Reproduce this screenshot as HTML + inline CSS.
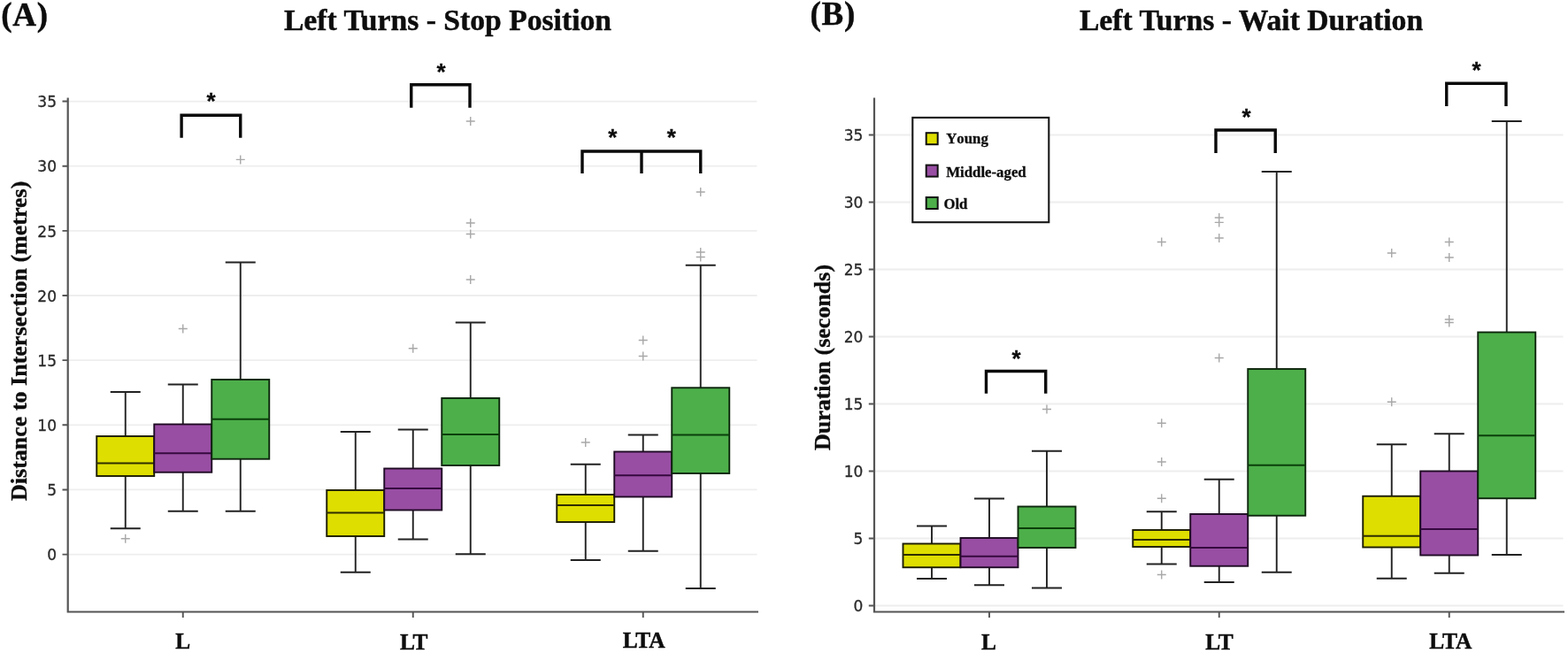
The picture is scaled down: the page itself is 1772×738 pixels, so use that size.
<!DOCTYPE html>
<html lang="en">
<head>
<meta charset="utf-8">
<title>Left Turns - Stop Position and Wait Duration</title>
<style>
html,body{margin:0;padding:0;background:#fff;}
body{width:1772px;height:738px;overflow:hidden;}
svg{display:block;}
text{font-family:"Liberation Serif",serif;font-weight:bold;fill:#0d0d0d;stroke:#0d0d0d;stroke-width:0.45;}
.g{stroke:#eeeeee;stroke-width:1.8;fill:none;}
.sp{stroke:#555555;stroke-width:2.2;fill:none;stroke-linejoin:miter;}
.tk{stroke:#555555;stroke-width:1.9;fill:none;}
.w{stroke:#222222;stroke-width:1.9;fill:none;}
.b{stroke-width:1.9;}
.m{stroke-width:2.1;fill:none;}
.f{stroke:#a8a8a8;stroke-width:1.4;fill:none;}
.br{stroke:#0a0a0a;stroke-width:3.4;fill:none;stroke-linejoin:miter;}
.st{font-family:"Liberation Sans",sans-serif;font-weight:bold;font-size:26px;text-anchor:middle;fill:#0a0a0a;stroke:#0a0a0a;stroke-width:0.3;}
.yt{font-family:"DejaVu Sans",sans-serif;font-weight:normal;font-size:17px;text-anchor:end;fill:#2a2a2a;stroke:#2a2a2a;stroke-width:0.3;}
.xt{font-size:25.4px;text-anchor:middle;}
.lg{font-size:16.8px;font-kerning:none;stroke-width:0.3;}
.pl{font-size:37px;letter-spacing:0.7px;}
.ti{font-size:33.65px;text-anchor:middle;}
.yl{font-size:26px;text-anchor:middle;stroke-width:0.35;}
</style>
</head>
<body>
<svg width="1772" height="738" viewBox="0 0 1772 738">
<rect width="1772" height="738" fill="#ffffff"/>
<path d="M76.70 626.60H855.50M76.70 553.45H855.50M76.70 480.30H855.50M76.70 407.15H855.50M76.70 334.00H855.50M76.70 260.85H855.50M76.70 187.70H855.50M76.70 114.55H855.50" class="g"/>
<path d="M141.75 443.00V493.00M141.75 538.00V597.25M124.75 443.00H158.75M124.75 597.25H158.75" class="w"/>
<rect x="109.25" y="493.00" width="65.00" height="45.00" fill="#dede00" stroke="#1c1c00" class="b"/>
<path d="M109.25 523.50H174.25" stroke="#2e2e00" class="m"/>
<path d="M136.75 608.75h10M141.75 603.75v10" class="f"/>
<path d="M206.75 434.50V479.50M206.75 533.75V577.75M189.75 434.50H223.75M189.75 577.75H223.75" class="w"/>
<rect x="174.25" y="479.50" width="65.00" height="54.25" fill="#984ea3" stroke="#1f0b24" class="b"/>
<path d="M174.25 512.25H239.25" stroke="#36093f" class="m"/>
<path d="M201.75 371.50h10M206.75 366.50v10" class="f"/>
<path d="M271.75 296.50V429.00M271.75 518.75V577.75M254.75 296.50H288.75M254.75 577.75H288.75" class="w"/>
<rect x="239.25" y="429.00" width="65.00" height="89.75" fill="#4daf4a" stroke="#0d260d" class="b"/>
<path d="M239.25 473.75H304.25" stroke="#0b3f0b" class="m"/>
<path d="M266.75 180.40h10M271.75 175.40v10" class="f"/>
<path d="M401.75 488.00V554.00M401.75 606.00V646.75M384.75 488.00H418.75M384.75 646.75H418.75" class="w"/>
<rect x="369.25" y="554.00" width="65.00" height="52.00" fill="#dede00" stroke="#1c1c00" class="b"/>
<path d="M369.25 579.50H434.25" stroke="#2e2e00" class="m"/>
<path d="M466.75 485.50V529.50M466.75 576.50V609.50M449.75 485.50H483.75M449.75 609.50H483.75" class="w"/>
<rect x="434.25" y="529.50" width="65.00" height="47.00" fill="#984ea3" stroke="#1f0b24" class="b"/>
<path d="M434.25 552.00H499.25" stroke="#36093f" class="m"/>
<path d="M461.75 393.75h10M466.75 388.75v10" class="f"/>
<path d="M531.75 364.50V450.00M531.75 526.00V626.25M514.75 364.50H548.75M514.75 626.25H548.75" class="w"/>
<rect x="499.25" y="450.00" width="65.00" height="76.00" fill="#4daf4a" stroke="#0d260d" class="b"/>
<path d="M499.25 491.00H564.25" stroke="#0b3f0b" class="m"/>
<path d="M526.75 137.00h10M531.75 132.00v10M526.75 252.00h10M531.75 247.00v10M526.75 264.50h10M531.75 259.50v10M526.75 316.00h10M531.75 311.00v10" class="f"/>
<path d="M661.75 524.75V559.00M661.75 590.00V633.00M644.75 524.75H678.75M644.75 633.00H678.75" class="w"/>
<rect x="629.25" y="559.00" width="65.00" height="31.00" fill="#dede00" stroke="#1c1c00" class="b"/>
<path d="M629.25 571.00H694.25" stroke="#2e2e00" class="m"/>
<path d="M656.75 500.00h10M661.75 495.00v10" class="f"/>
<path d="M726.75 491.50V510.50M726.75 561.50V622.75M709.75 491.50H743.75M709.75 622.75H743.75" class="w"/>
<rect x="694.25" y="510.50" width="65.00" height="51.00" fill="#984ea3" stroke="#1f0b24" class="b"/>
<path d="M694.25 537.25H759.25" stroke="#36093f" class="m"/>
<path d="M721.75 384.50h10M726.75 379.50v10M721.75 402.50h10M726.75 397.50v10" class="f"/>
<path d="M791.75 299.75V438.25M791.75 535.00V665.00M774.75 299.75H808.75M774.75 665.00H808.75" class="w"/>
<rect x="759.25" y="438.25" width="65.00" height="96.75" fill="#4daf4a" stroke="#0d260d" class="b"/>
<path d="M759.25 491.50H824.25" stroke="#0b3f0b" class="m"/>
<path d="M786.75 217.00h10M791.75 212.00v10M786.75 285.00h10M791.75 280.00v10M786.75 290.50h10M791.75 285.50v10" class="f"/>
<path d="M76.70 110.40V691.50H857.00" class="sp"/>
<path d="M70.50 626.60h6.2M70.50 553.45h6.2M70.50 480.30h6.2M70.50 407.15h6.2M70.50 334.00h6.2M70.50 260.85h6.2M70.50 187.70h6.2M70.50 114.55h6.2M206.75 691.50v6.5M466.75 691.50v6.5M726.75 691.50v6.5" class="tk"/>
<text x="64.00" y="633.30" class="yt">0</text>
<text x="64.00" y="560.15" class="yt">5</text>
<text x="64.00" y="487.00" class="yt">10</text>
<text x="64.00" y="413.85" class="yt">15</text>
<text x="64.00" y="340.70" class="yt">20</text>
<text x="64.00" y="267.55" class="yt">25</text>
<text x="64.00" y="194.40" class="yt">30</text>
<text x="64.00" y="121.25" class="yt">35</text>
<text x="206.75" y="733.30" class="xt">L</text>
<text x="467.75" y="733.90" class="xt">LT</text>
<text x="727.65" y="732.40" class="xt">LTA</text>
<path d="M988.00 684.50H1766.50M988.00 608.50H1766.50M988.00 532.50H1766.50M988.00 456.50H1766.50M988.00 380.50H1766.50M988.00 304.50H1766.50M988.00 228.50H1766.50M988.00 152.50H1766.50" class="g"/>
<path d="M1053.00 594.50V614.50M1053.00 641.25V654.00M1036.00 594.50H1070.00M1036.00 654.00H1070.00" class="w"/>
<rect x="1020.50" y="614.50" width="65.00" height="26.75" fill="#dede00" stroke="#1c1c00" class="b"/>
<path d="M1020.50 627.00H1085.50" stroke="#2e2e00" class="m"/>
<path d="M1118.00 563.50V608.00M1118.00 641.25V661.25M1101.00 563.50H1135.00M1101.00 661.25H1135.00" class="w"/>
<rect x="1085.50" y="608.00" width="65.00" height="33.25" fill="#984ea3" stroke="#1f0b24" class="b"/>
<path d="M1085.50 628.75H1150.50" stroke="#36093f" class="m"/>
<path d="M1183.00 509.75V572.50M1183.00 619.00V664.50M1166.00 509.75H1200.00M1166.00 664.50H1200.00" class="w"/>
<rect x="1150.50" y="572.50" width="65.00" height="46.50" fill="#4daf4a" stroke="#0d260d" class="b"/>
<path d="M1150.50 597.00H1215.50" stroke="#0b3f0b" class="m"/>
<path d="M1178.00 462.50h10M1183.00 457.50v10" class="f"/>
<path d="M1312.75 578.25V599.00M1312.75 618.00V637.50M1295.75 578.25H1329.75M1295.75 637.50H1329.75" class="w"/>
<rect x="1280.25" y="599.00" width="65.00" height="19.00" fill="#dede00" stroke="#1c1c00" class="b"/>
<path d="M1280.25 610.00H1345.25" stroke="#2e2e00" class="m"/>
<path d="M1307.75 273.50h10M1312.75 268.50v10M1307.75 478.25h10M1312.75 473.25v10M1307.75 522.00h10M1312.75 517.00v10M1307.75 563.25h10M1312.75 558.25v10M1307.75 649.50h10M1312.75 644.50v10" class="f"/>
<path d="M1377.75 541.75V581.00M1377.75 639.75V658.00M1360.75 541.75H1394.75M1360.75 658.00H1394.75" class="w"/>
<rect x="1345.25" y="581.00" width="65.00" height="58.75" fill="#984ea3" stroke="#1f0b24" class="b"/>
<path d="M1345.25 619.00H1410.25" stroke="#36093f" class="m"/>
<path d="M1372.75 246.00h10M1377.75 241.00v10M1372.75 251.40h10M1377.75 246.40v10M1372.75 269.00h10M1377.75 264.00v10M1372.75 404.50h10M1377.75 399.50v10" class="f"/>
<path d="M1442.75 194.00V417.00M1442.75 582.75V646.75M1425.75 194.00H1459.75M1425.75 646.75H1459.75" class="w"/>
<rect x="1410.25" y="417.00" width="65.00" height="165.75" fill="#4daf4a" stroke="#0d260d" class="b"/>
<path d="M1410.25 525.75H1475.25" stroke="#0b3f0b" class="m"/>
<path d="M1572.75 502.25V560.75M1572.75 618.50V653.75M1555.75 502.25H1589.75M1555.75 653.75H1589.75" class="w"/>
<rect x="1540.25" y="560.75" width="65.00" height="57.75" fill="#dede00" stroke="#1c1c00" class="b"/>
<path d="M1540.25 605.75H1605.25" stroke="#2e2e00" class="m"/>
<path d="M1567.75 286.00h10M1572.75 281.00v10M1567.75 454.25h10M1572.75 449.25v10" class="f"/>
<path d="M1637.75 490.25V532.50M1637.75 627.50V647.75M1620.75 490.25H1654.75M1620.75 647.75H1654.75" class="w"/>
<rect x="1605.25" y="532.50" width="65.00" height="95.00" fill="#984ea3" stroke="#1f0b24" class="b"/>
<path d="M1605.25 598.00H1670.25" stroke="#36093f" class="m"/>
<path d="M1632.75 273.50h10M1637.75 268.50v10M1632.75 291.00h10M1637.75 286.00v10M1632.75 361.00h10M1637.75 356.00v10M1632.75 364.50h10M1637.75 359.50v10" class="f"/>
<path d="M1702.75 137.00V375.50M1702.75 563.25V627.00M1685.75 137.00H1719.75M1685.75 627.00H1719.75" class="w"/>
<rect x="1670.25" y="375.50" width="65.00" height="187.75" fill="#4daf4a" stroke="#0d260d" class="b"/>
<path d="M1670.25 492.25H1735.25" stroke="#0b3f0b" class="m"/>
<path d="M988.00 110.40V691.50H1768.00" class="sp"/>
<path d="M981.80 684.50h6.2M981.80 608.50h6.2M981.80 532.50h6.2M981.80 456.50h6.2M981.80 380.50h6.2M981.80 304.50h6.2M981.80 228.50h6.2M981.80 152.50h6.2M1118.00 691.50v6.5M1377.75 691.50v6.5M1637.75 691.50v6.5" class="tk"/>
<text x="975.30" y="691.20" class="yt">0</text>
<text x="975.30" y="615.20" class="yt">5</text>
<text x="975.30" y="539.20" class="yt">10</text>
<text x="975.30" y="463.20" class="yt">15</text>
<text x="975.30" y="387.20" class="yt">20</text>
<text x="975.30" y="311.20" class="yt">25</text>
<text x="975.30" y="235.20" class="yt">30</text>
<text x="975.30" y="159.20" class="yt">35</text>
<text x="1117.50" y="734.30" class="xt">L</text>
<text x="1377.95" y="734.00" class="xt">LT</text>
<text x="1639.35" y="732.90" class="xt">LTA</text>
<path d="M205.10 155.70V130.30H271.75V155.70" class="br"/>
<text x="238.60" y="123.30" class="st">*</text>
<path d="M464.75 121.65V95.75H531.00V121.65" class="br"/>
<text x="498.50" y="90.30" class="st">*</text>
<path d="M658.00 195.90V171.00H791.75V195.90M725.00 171.00V195.90" class="br"/>
<text x="692.25" y="164.30" class="st">*</text>
<text x="758.75" y="164.30" class="st">*</text>
<path d="M1114.50 444.65V419.50H1181.75V444.65" class="br"/>
<text x="1148.50" y="413.55" class="st">*</text>
<path d="M1374.00 172.90V147.00H1441.25V172.90" class="br"/>
<text x="1408.50" y="141.05" class="st">*</text>
<path d="M1634.75 119.90V94.25H1702.00V119.90" class="br"/>
<text x="1668.50" y="87.80" class="st">*</text>
<rect x="1031.3" y="132.9" width="154" height="118.3" fill="#fff" stroke="#161616" stroke-width="2.1"/>
<rect x="1046.7" y="150.20" width="13" height="13" fill="#dede00" stroke="#111" stroke-width="2"/>
<text x="1069.25" y="162.00" class="lg">Young</text>
<rect x="1046.7" y="186.60" width="13" height="13" fill="#984ea3" stroke="#111" stroke-width="2"/>
<text x="1069.25" y="199.70" class="lg">Middle-aged</text>
<rect x="1046.7" y="223.00" width="13" height="13" fill="#4daf4a" stroke="#111" stroke-width="2"/>
<text x="1066.4" y="235.50" class="lg">Old</text>
<text x="1.3" y="28.6" class="pl">(A)</text>
<text x="915.5" y="28.2" class="pl">(B)</text>
<text x="506.0" y="33.8" class="ti">Left Turns - Stop Position</text>
<text x="1414.0" y="33.8" class="ti">Left Turns - Wait Duration</text>
<text transform="translate(30.3 385.3) rotate(-90)" class="yl">Distance to Intersection (metres)</text>
<text transform="translate(938.3 404) rotate(-90)" class="yl">Duration (seconds)</text>
</svg>
</body>
</html>
